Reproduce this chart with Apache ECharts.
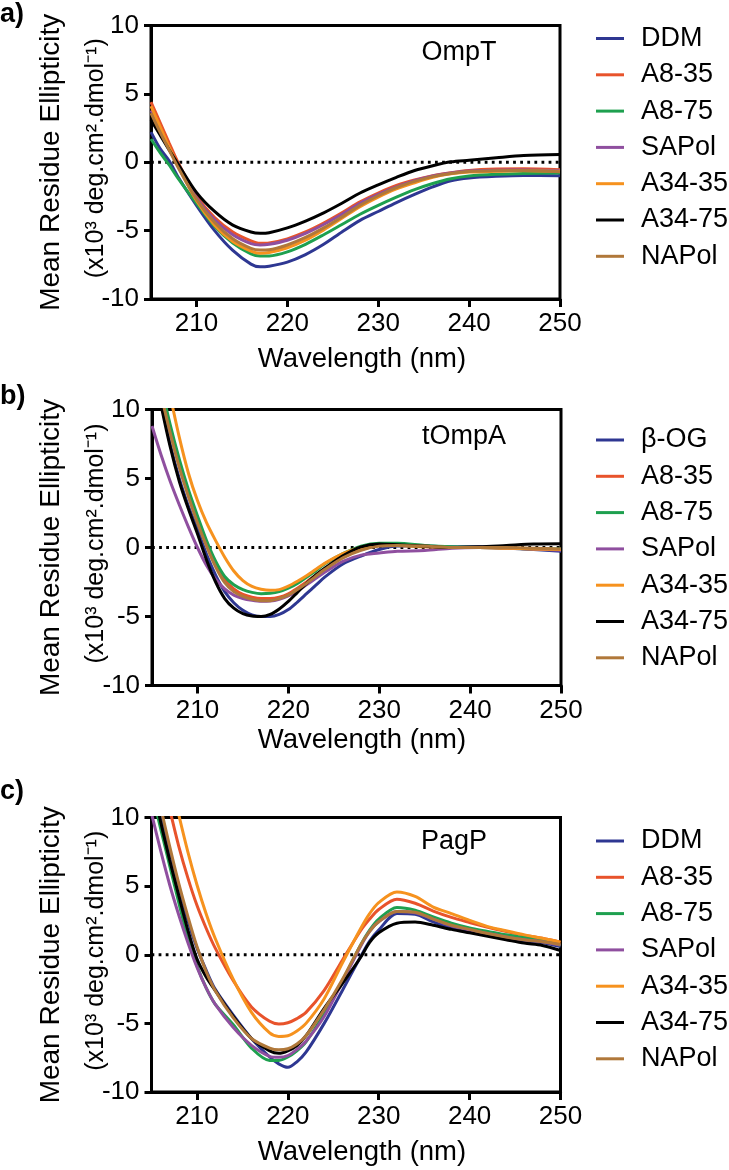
<!DOCTYPE html>
<html>
<head>
<meta charset="utf-8">
<script src="https://cdn.jsdelivr.net/npm/echarts@6/dist/echarts.min.js"></script>
<style>
html,body{margin:0;padding:0;background:#fff;}
#chart{width:729px;height:1170px;}
</style>
</head>
<body>
<div id="chart"></div>
<script>
// ---------- data ----------
const xTicks = [210, 220, 230, 240, 250];
const yTicks = [-10, -5, 0, 5, 10];

const namesA = ['DDM', 'A8-35', 'A8-75', 'SAPol', 'A34-35', 'A34-75', 'NAPol'];
const namesB = ['β-OG', 'A8-35', 'A8-75', 'SAPol', 'A34-35', 'A34-75', 'NAPol'];
const namesC = ['DDM', 'A8-35', 'A8-75', 'SAPol', 'A34-35', 'A34-75', 'NAPol'];
const colors = ['#2e3792', '#e8532b', '#1ea04f', '#8f4f9f', '#f6921e', '#000000', '#b0783a'];

// Panel a) OmpT
const wlA = [205,206,207,208,210,212,214,216,217,218,220,222,224,226,228,230,232,234,236,238,240,243,246,250];
const aDDM   = [2.2,1.0,0.1,-1.1,-3.15,-5.0,-6.45,-7.45,-7.65,-7.6,-7.3,-6.75,-6.0,-5.1,-4.25,-3.6,-2.95,-2.35,-1.8,-1.35,-1.15,-1.03,-0.97,-0.98];
const aA835  = [4.4,2.9,1.4,-0.05,-2.45,-4.05,-5.1,-5.75,-5.93,-5.9,-5.6,-5.1,-4.45,-3.7,-2.9,-2.25,-1.7,-1.3,-0.98,-0.76,-0.6,-0.5,-0.47,-0.54];
const aA875  = [1.7,0.7,-0.2,-1.2,-3.0,-4.7,-5.9,-6.7,-6.86,-6.85,-6.55,-6.0,-5.3,-4.55,-3.8,-3.15,-2.55,-2.0,-1.55,-1.2,-1.0,-0.88,-0.82,-0.78];
const aSAPol = [3.8,2.4,1.0,-0.3,-2.6,-4.2,-5.3,-5.95,-6.05,-6.0,-5.7,-5.2,-4.55,-3.8,-3.0,-2.35,-1.8,-1.35,-1.0,-0.78,-0.64,-0.58,-0.56,-0.6];
const aA3435 = [4.1,2.6,1.1,-0.3,-2.8,-4.6,-5.8,-6.5,-6.65,-6.6,-6.25,-5.7,-4.95,-4.1,-3.25,-2.55,-1.95,-1.5,-1.1,-0.85,-0.72,-0.66,-0.62,-0.66];
const aA3475 = [3.1,2.0,0.9,-0.15,-2.2,-3.6,-4.6,-5.1,-5.19,-5.15,-4.8,-4.3,-3.7,-3.0,-2.25,-1.65,-1.1,-0.6,-0.25,0.03,0.15,0.33,0.49,0.57];
const aNAPol = [3.6,2.2,0.9,-0.4,-2.7,-4.4,-5.6,-6.3,-6.42,-6.4,-6.05,-5.5,-4.8,-4.0,-3.15,-2.45,-1.85,-1.4,-1.05,-0.82,-0.68,-0.62,-0.6,-0.7];

// Panel b) tOmpA
const wlB = [205,206,207,208,209,210,211,212,213,214,215,216,217,218,219,220,221,222,223,224,226,228,230,232,235,238,241,244,247,250];
const bBOG   = [14,10.6,7.5,5.0,3.0,1.3,-0.5,-2.0,-3.2,-4.0,-4.55,-4.88,-5.0,-5.0,-4.85,-4.5,-3.95,-3.35,-2.75,-2.15,-1.2,-0.62,-0.15,0.1,0.1,0.05,0.05,0.0,-0.15,-0.27];
const bA835  = [14.5,11.3,8.5,6.0,3.9,2.0,0.3,-1.2,-2.35,-3.0,-3.4,-3.6,-3.7,-3.7,-3.6,-3.35,-2.95,-2.5,-2.0,-1.55,-0.7,-0.15,0.15,0.2,0.1,0.0,0.0,-0.05,-0.1,-0.15];
const bA875  = [15,11.8,8.9,6.4,4.2,2.3,0.5,-1.0,-2.1,-2.7,-3.05,-3.25,-3.35,-3.32,-3.2,-2.95,-2.6,-2.15,-1.7,-1.2,-0.45,0.1,0.3,0.3,0.15,0.05,0.0,-0.05,-0.1,-0.1];
const bSAPol = [8.8,6.7,4.8,3.1,1.5,0.0,-1.3,-2.3,-3.0,-3.45,-3.7,-3.83,-3.9,-3.88,-3.75,-3.5,-3.15,-2.7,-2.25,-1.8,-1.0,-0.55,-0.4,-0.27,-0.22,-0.05,0.0,-0.05,-0.12,-0.2];
const bA3435 = [17.5,14,11,8.0,5.4,3.4,1.8,0.5,-0.7,-1.7,-2.4,-2.82,-3.02,-3.1,-3.05,-2.8,-2.45,-2.05,-1.6,-1.15,-0.45,0.0,0.15,0.15,0.05,0.0,0.0,-0.05,-0.1,-0.15];
const bA3475 = [13.6,10.3,7.3,4.8,2.8,1.0,-0.9,-2.5,-3.7,-4.4,-4.8,-4.97,-5.0,-4.85,-4.45,-3.9,-3.25,-2.6,-2.0,-1.5,-0.6,0.05,0.25,0.2,0.1,0.0,0.05,0.15,0.25,0.27];
const bNAPol = [14.3,11.1,8.3,5.8,3.7,1.8,0.1,-1.4,-2.55,-3.2,-3.55,-3.75,-3.85,-3.85,-3.7,-3.45,-3.05,-2.6,-2.1,-1.6,-0.75,-0.2,0.1,0.15,0.1,0.0,0.0,0.0,-0.05,-0.1];

// Panel c) PagP
const wlC = [205,206,207,208,209,210,211,212,214,216,218,219,220,221,222,224,226,228,229,230,232,234,236,238,240,242,244,246,248,250];
const cDDM   = [13.6,10.5,7.6,5.0,2.5,0.5,-1.1,-2.5,-4.4,-6.1,-7.45,-7.95,-8.2,-7.8,-7.1,-5.0,-2.6,-0.15,1.0,1.8,3.0,2.95,2.4,1.95,1.7,1.5,1.2,1.0,0.88,0.6];
const cA835  = [16,13.3,10.6,7.9,5.6,3.6,1.95,0.5,-1.9,-3.8,-4.85,-5.04,-4.95,-4.65,-4.2,-2.6,-0.4,1.75,2.6,3.3,4.05,3.75,3.18,2.72,2.35,2.0,1.7,1.42,1.2,0.92];
const cA875  = [12,9.2,6.5,3.8,1.2,-0.8,-2.4,-3.6,-5.1,-6.8,-7.7,-7.7,-7.45,-7.0,-6.35,-4.3,-1.9,0.7,1.8,2.6,3.45,3.25,2.75,2.3,1.95,1.7,1.45,1.25,1.05,0.68];
const cSAPol = [10.3,7.6,5.1,2.9,0.9,-0.9,-2.4,-3.6,-5.3,-6.6,-7.4,-7.47,-7.35,-6.9,-6.3,-4.5,-2.0,0.6,1.7,2.4,3.15,3.05,2.6,2.1,1.8,1.55,1.3,1.1,0.95,0.7];
const cA3435 = [19.5,16.2,13.1,10.2,7.5,5.1,3.0,1.2,-1.8,-4.2,-5.7,-5.95,-5.9,-5.55,-5.0,-3.2,-0.6,1.9,3.0,3.8,4.57,4.25,3.47,3.0,2.5,2.05,1.75,1.45,1.2,0.92];
const cA3475 = [12.8,9.7,6.9,4.3,1.8,-0.3,-1.6,-2.6,-4.5,-6.1,-7.0,-7.18,-7.0,-6.62,-5.9,-3.9,-2.1,-0.2,0.9,1.6,2.3,2.38,2.15,1.85,1.6,1.35,1.1,0.85,0.68,0.31];
const cNAPol = [14,10.8,7.9,5.2,2.8,0.6,-1.2,-2.6,-4.6,-6.1,-6.8,-6.93,-6.85,-6.5,-5.9,-4.0,-1.8,0.7,1.7,2.4,3.15,3.1,2.6,2.15,1.85,1.55,1.3,1.1,0.95,0.75];

const titles = ['OmpT', 'tOmpA', 'PagP'];
const panelLabels = ['a)', 'b)', 'c)'];
const yName1 = 'Mean Residue Ellipticity';
const yName2 = '(x10³ deg.cm².dmol⁻¹)';
const xName = 'Wavelength (nm)';

// ---------- layout / style ----------
const FONT = '"Liberation Sans", Arial, Helvetica, sans-serif';
const panels = [
  {wl: wlA, ys: [aDDM, aA835, aA875, aSAPol, aA3435, aA3475, aNAPol], names: namesA,
   grid: {left: 151, top: 25.5, width: 409, height: 273.5}, legendTop: 25, titleX: 459, titleY: 53, labelY: 15, xNameY: 359},
  {wl: wlB, ys: [bBOG, bA835, bA875, bSAPol, bA3435, bA3475, bNAPol], names: namesB,
   grid: {left: 152, top: 409.5, width: 409, height: 276}, legendTop: 426.5, titleX: 464, titleY: 437, labelY: 397, xNameY: 740},
  {wl: wlC, ys: [cDDM, cA835, cA875, cSAPol, cA3435, cA3475, cNAPol], names: namesC,
   grid: {left: 151.5, top: 817.5, width: 409, height: 274.5}, legendTop: 827.5, titleX: 454, titleY: 842, labelY: 792, xNameY: 1152}
];

const grids = [], xAxes = [], yAxes = [], series = [], legends = [], graphics = [];
panels.forEach((p, i) => {
  grids.push(Object.assign({show: true, borderColor: '#000', borderWidth: 3, backgroundColor: 'transparent'}, p.grid));
  xAxes.push({
    type: 'value', gridIndex: i, min: 205, max: 250,
    axisLine: {show: true, onZero: false, lineStyle: {color: '#000', width: 3}},
    axisTick: {show: true, customValues: xTicks, length: 8, lineStyle: {color: '#000', width: 3}},
    axisLabel: {customValues: xTicks, margin: 12, color: '#000', fontSize: 26, fontFamily: FONT},
    splitLine: {show: false}
  });
  yAxes.push({
    type: 'value', gridIndex: i, min: -10, max: 10, interval: 5,
    axisLine: {show: true, onZero: false, lineStyle: {color: '#000', width: 3}},
    axisTick: {show: true, length: 7, lineStyle: {color: '#000', width: 3}},
    axisLabel: {margin: 12, color: '#000', fontSize: 26, fontFamily: FONT},
    splitLine: {show: false}
  });
  // dotted zero line
  series.push({
    type: 'line', xAxisIndex: i, yAxisIndex: i, silent: true, symbol: 'none',
    data: [[205, 0], [250, 0]],
    lineStyle: {color: '#000', width: 2.8, type: [2.8, 4.3]},
    z: 1
  });
  p.ys.forEach((vals, k) => {
    series.push({
      type: 'line', name: p.names[k], xAxisIndex: i, yAxisIndex: i,
      data: p.wl.map((w, j) => [w, vals[j]]),
      smooth: 0.3, symbol: 'none', showSymbol: false, clip: true,
      lineStyle: {color: colors[k], width: 3},
      itemStyle: {color: colors[k]},
      z: 2 + k
    });
  });
  legends.push({
    data: p.names, orient: 'vertical', left: 596, top: p.legendTop, padding: 0,
    itemWidth: 28, itemHeight: 3, itemGap: 9.3, icon: 'rect', selectedMode: false,
    textStyle: {color: '#000', fontSize: 27, lineHeight: 27, fontFamily: FONT, padding: [0, 0, 0, 12]}
  });
  const cy = p.grid.top + p.grid.height / 2;
  graphics.push(
    {type: 'text', x: 0, y: p.labelY, style: {text: panelLabels[i], font: 'bold 27px ' + FONT, fill: '#000', textAlign: 'left', textVerticalAlign: 'middle', align: 'left', verticalAlign: 'middle'}},
    {type: 'text', x: p.titleX, y: p.titleY, style: {text: titles[i], font: '27px ' + FONT, fill: '#000', textAlign: 'center', textVerticalAlign: 'middle', align: 'center', verticalAlign: 'middle'}},
    {type: 'text', x: 51, y: cy, rotation: Math.PI / 2, style: {text: yName1, font: '28px ' + FONT, fill: '#000', textAlign: 'center', textVerticalAlign: 'middle', align: 'center', verticalAlign: 'middle'}},
    {type: 'text', x: 96, y: cy - 4, rotation: Math.PI / 2, style: {text: yName2, font: '25px ' + FONT, fill: '#000', textAlign: 'center', textVerticalAlign: 'middle', align: 'center', verticalAlign: 'middle'}},
    {type: 'text', x: 362, y: p.xNameY, style: {text: xName, font: '27.5px ' + FONT, fill: '#000', textAlign: 'center', textVerticalAlign: 'middle', align: 'center', verticalAlign: 'middle'}}
  );
});

const chart = echarts.init(document.getElementById('chart'), null, {renderer: 'canvas'});
chart.setOption({
  animation: false,
  backgroundColor: '#fff',
  grid: grids, xAxis: xAxes, yAxis: yAxes, series: series, legend: legends,
  graphic: {elements: graphics}
});
</script>
</body>
</html>
